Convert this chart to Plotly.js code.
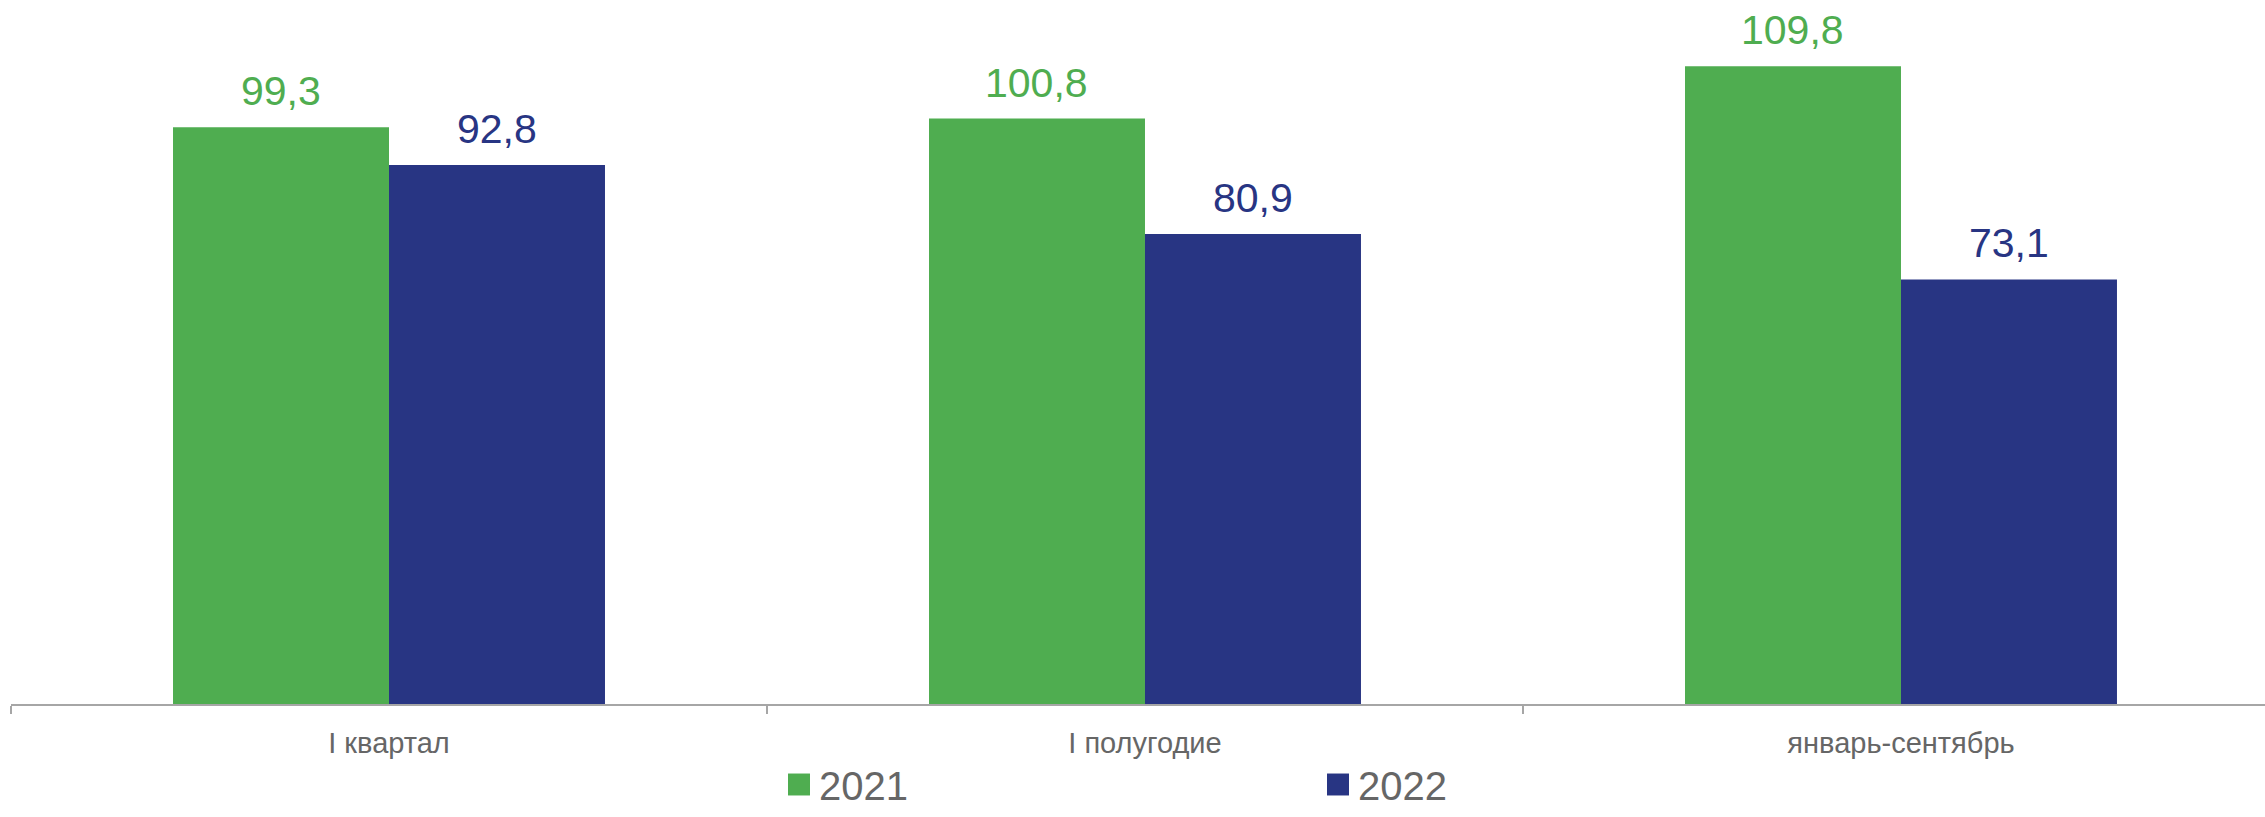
<!DOCTYPE html>
<html>
<head>
<meta charset="utf-8">
<script src="https://cdn.plot.ly/plotly-3.0.1.min.js"></script>
<style>html,body{margin:0;padding:0;background:#fff;overflow:hidden}#chart{width:2265px;height:817px}</style>
</head>
<body>
<div id="chart"></div>
<script>
var categories = ["I квартал", "I полугодие", "январь-сентябрь"];
var seriesNames = ["2021", "2022"];
var values2021 = [99.3, 100.8, 109.8];
var values2022 = [92.8, 80.9, 73.1];

var green = "#4FAD50";
var navy = "#283583";
var FONT = "Liberation Sans, Arial, sans-serif";

function fmt(v) { return v.toFixed(1).replace(".", ","); }

var traces = [
  { type: "bar", name: seriesNames[0], x: categories, y: values2021,
    marker: { color: green, line: { width: 0 } }, hoverinfo: "none" },
  { type: "bar", name: seriesNames[1], x: categories, y: values2022,
    marker: { color: navy, line: { width: 0 } }, hoverinfo: "none" }
];

var annotations = [];
[values2021, values2022].forEach(function (vals, si) {
  vals.forEach(function (v, i) {
    annotations.push({
      xref: "x", yref: "y", x: categories[i], y: v,
      xshift: si === 0 ? -108 : 108, yshift: 11,
      yanchor: "bottom", xanchor: "center", showarrow: false,
      text: fmt(v),
      font: { family: FONT, size: 41, color: si === 0 ? green : navy }
    });
  });
});

var layout = {
  width: 2265, height: 817,
  margin: { l: 11, r: 0, t: 0, b: 113, pad: 0 },
  paper_bgcolor: "#ffffff", plot_bgcolor: "#ffffff",
  barmode: "group", bargap: 0.4286, bargroupgap: 0,
  font: { family: FONT },
  xaxis: {
    type: "category", range: [-0.5, 2.4815], fixedrange: true,
    showline: true, linecolor: "#a6a6a6", linewidth: 2,
    ticks: "outside", tickson: "boundaries", ticklen: 8, tickwidth: 2, tickcolor: "#a6a6a6",
    ticklabelstandoff: 12,
    tickfont: { family: FONT, size: 29, color: "#666666" },
    showgrid: false, zeroline: false
  },
  yaxis: {
    range: [0, 121.2], visible: false, showgrid: false, zeroline: false, fixedrange: true
  },
  showlegend: true,
  legend: {
    orientation: "h", xref: "container", yref: "container",
    x: 779 / 2265, xanchor: "left", y: -7 / 817, yanchor: "bottom",
    entrywidth: 494, entrywidthmode: "pixels",
    font: { family: FONT, size: 40, color: "#666666" },
    bgcolor: "rgba(0,0,0,0)", borderwidth: 0
  },
  annotations: annotations
};

Plotly.newPlot("chart", traces, layout, { staticPlot: true, displayModeBar: false }).then(function () {
  document.querySelectorAll(".legendpoints path").forEach(function (p) {
    var t = p.getAttribute("transform") || "";
    p.setAttribute("transform", t + " scale(1.83)");
  });
});
</script>
</body>
</html>
